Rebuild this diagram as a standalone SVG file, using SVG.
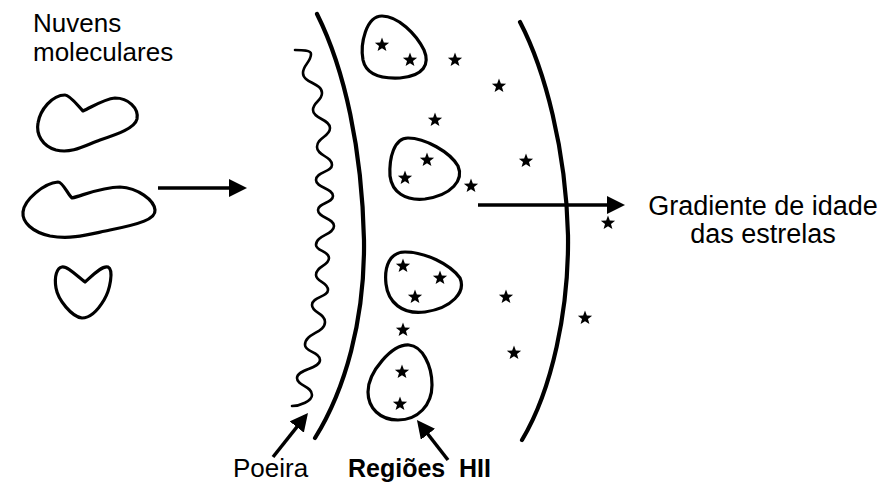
<svg xmlns="http://www.w3.org/2000/svg" xmlns:xlink="http://www.w3.org/1999/xlink" width="885" height="485" viewBox="0 0 885 485">
<style>
  .shape { fill: none; stroke: #000; stroke-width: 3.2; stroke-linejoin: round; stroke-linecap: round; }
  .arc { fill: none; stroke: #000; stroke-width: 4.2; stroke-linecap: round; }
  .wave { fill: none; stroke: #000; stroke-width: 2.6; stroke-linecap: round; }
  .conn { fill: none; stroke: #000; stroke-width: 3.5; }
  .lbl { font-family: "Liberation Sans", Arial, sans-serif; font-size: 26px; fill: #000; }
  .bold { font-weight: bold; font-size: 25px; }
  .star { fill: #000; }
</style>
<defs>
  <path id="star" d="M0,-7.5 L1.85,-2.55 L7.13,-2.32 L2.99,0.97 L4.41,6.07 L0,3.15 L-4.41,6.07 L-2.99,0.97 L-7.13,-2.32 L-1.85,-2.55 Z"/>
  <marker id="head" viewBox="0 0 18 18" refX="14" refY="9" markerWidth="18" markerHeight="18" markerUnits="userSpaceOnUse" orient="auto">
    <path d="M0,0 L18,9 L0,18 Z" fill="#000"/>
  </marker>
</defs>
<rect width="885" height="485" fill="#fff"/>

<g id="cloud1">
  <path class="shape" d="M65,95 C70,95 78,106 83,111 C92,107 104,99 115,98 C128,98 139,108 137,119 C135,128 118,134 100,140 C86,145 72,154 56,150 C42,146 36,134 38,123 C40,110 52,95 65,95 Z"/>
</g>
<g id="cloud2">
  <path class="shape" d="M58,182 C63,182 68,195 72,198 C84,195 102,187 120,187 C138,188 154,200 155,210 C156,219 140,224 110,230 C90,234 72,240 50,236 C32,232 22,222 23,212 C24,200 44,183 58,182 Z"/>
</g>
<g id="cloud3">
  <path class="shape" d="M62,267 C68,266 79,278 85,282 C92,276 102,265 108,267 C114,270 110,290 104,300 C98,310 90,318 82,318 C72,317 58,300 56,288 C54,276 57,268 62,267 Z"/>
</g>

<g id="dust">
  <path class="wave" d="M295,50 C302,50 311,50 311,54 C311,62 303,65 303,73 C303,83 322,83 322,93 C322,101 313,102 313,110 C313,119 330,119 330,128 C330,137 317,137 317,147 C317,156 332,156 332,165 C332,172 316,172 316,180 C316,188 333,188 333,196 C333,203 318,203 318,210 C318,218 334,218 334,226 C334,235 316,235 316,245 C316,251 329,251 329,258 C329,266 316,266 316,275 C316,282 328,282 328,290 C328,297 312,297 312,305 C312,313 325,313 325,322 C325,333 305,333 305,345 C305,352 320,352 320,360 C320,369 297,369 297,378 C297,386 312,386 312,395 C312,401 300,406 292,406"/>
</g>

<g id="front-inner">
  <path class="arc" d="M317,14 C345,70 362,150 364,240 C365,320 345,390 315,438"/>
</g>
<g id="front-outer">
  <path class="arc" d="M520,22 C545,70 566,150 568,235 C569,310 552,390 522,440"/>
</g>

<g id="hii1">
  <path class="shape" d="M382,16 C398,16 416,34 424,50 C430,64 424,76 400,78 C380,79 366,74 363,60 C360,44 366,16 382,16 Z"/>
  <use xlink:href="#star" href="#star" x="382" y="45" class="star"/>
  <use xlink:href="#star" href="#star" x="410" y="60" class="star"/>
</g>
<g id="hii2">
  <path class="shape" d="M408,138 C425,138 450,152 458,166 C464,180 452,195 425,199 C405,201 392,192 390,176 C389,158 394,138 408,138 Z"/>
  <use xlink:href="#star" href="#star" x="427" y="160" class="star"/>
  <use xlink:href="#star" href="#star" x="405" y="178" class="star"/>
</g>
<g id="hii3">
  <path class="shape" d="M405,252 C425,252 450,264 460,278 C466,292 452,308 425,312 C402,315 388,302 386,284 C384,266 390,252 405,252 Z"/>
  <use xlink:href="#star" href="#star" x="403" y="266" class="star"/>
  <use xlink:href="#star" href="#star" x="440" y="278" class="star"/>
  <use xlink:href="#star" href="#star" x="415" y="297" class="star"/>
</g>
<g id="hii4">
  <path class="shape" d="M409,345 C422,346 432,365 432,385 C432,405 418,420 398,420 C380,420 368,408 368,392 C368,372 392,344 409,345 Z"/>
  <use xlink:href="#star" href="#star" x="402" y="372" class="star"/>
  <use xlink:href="#star" href="#star" x="400" y="404" class="star"/>
</g>

<g id="field-stars" class="star">
  <use xlink:href="#star" href="#star" x="455" y="60"/>
  <use xlink:href="#star" href="#star" x="499" y="86"/>
  <use xlink:href="#star" href="#star" x="435" y="120"/>
  <use xlink:href="#star" href="#star" x="526" y="161"/>
  <use xlink:href="#star" href="#star" x="471" y="186"/>
  <use xlink:href="#star" href="#star" x="608" y="223"/>
  <use xlink:href="#star" href="#star" x="506" y="297"/>
  <use xlink:href="#star" href="#star" x="585" y="318"/>
  <use xlink:href="#star" href="#star" x="403" y="330"/>
  <use xlink:href="#star" href="#star" x="514" y="353"/>
</g>

<g id="connectors">
  <line class="conn" x1="158" y1="188" x2="243" y2="188" marker-end="url(#head)"/>
  <line class="conn" x1="478" y1="205" x2="621" y2="205" marker-end="url(#head)"/>
  <line class="conn" x1="273" y1="457" x2="305.5" y2="416.1" marker-end="url(#head)"/>
  <line class="conn" x1="448" y1="460" x2="419.4" y2="423.2" marker-end="url(#head)"/>
</g>

<g id="labels">
  <text class="lbl" x="33" y="32">Nuvens</text>
  <text class="lbl" x="33" y="61">moleculares</text>
  <text class="lbl" x="763" y="215" text-anchor="middle" style="font-size:27px">Gradiente de idade</text>
  <text class="lbl" x="763" y="243" text-anchor="middle" style="font-size:27px">das estrelas</text>
  <text class="lbl" x="233" y="477">Poeira</text>
  <text class="lbl bold" x="348" y="477">Regiões <tspan x="459">HII</tspan></text>
</g>
</svg>
